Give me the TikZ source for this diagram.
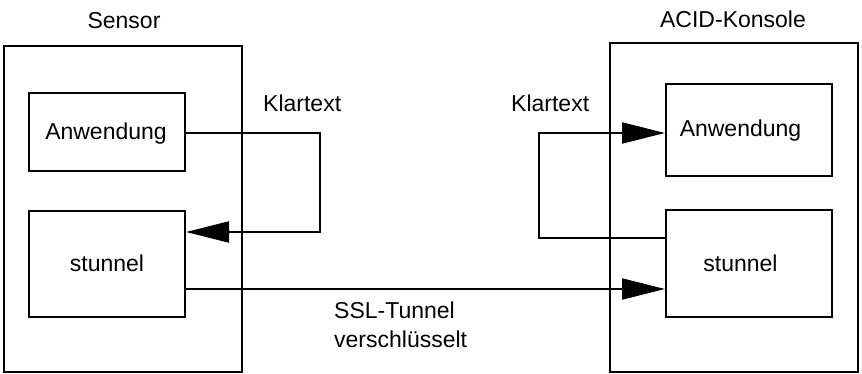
\documentclass[tikz,border=0pt]{standalone}
\usepackage{fontspec}
\setmainfont{Liberation Sans}
\usetikzlibrary{arrows.meta}
\begin{document}
\begin{tikzpicture}[x=1pt,y=-1pt,
  every node/.style={font=\fontsize{23}{28}\selectfont, inner sep=0pt},
  frame/.style={draw, line width=2pt},
  box/.style={draw, line width=2pt},
  conn/.style={line width=2pt},
  arr/.style={conn, -{Triangle[length=43pt,width=21pt]}}]
\useasboundingbox (0,0) rectangle (862,374);
% outer frames
\draw[frame] (4,46) rectangle (242,372);
\draw[frame] (610,43) rectangle (858,372);
% inner boxes
\node[box, minimum width=156pt, minimum height=78pt] (anwL) at (107,132) {};
\node[box, minimum width=156pt, minimum height=106pt] (stL) at (107,264) {};
\node[box, minimum width=166pt, minimum height=92pt] (anwR) at (749,130) {};
\node[box, minimum width=166pt, minimum height=107pt] (stR) at (749,263.5) {};
% box texts
\node[anchor=base] (tanwL) at (106,140) {Anwendung};
\node[anchor=base] (tstL) at (107,271) {stunnel};
\node[anchor=base] (tanwR) at (740.5,137) {Anwendung};
\node[anchor=base] (tstR) at (740.5,271) {stunnel};
% titles
\node[anchor=base] (sensor) at (124,28.5) {Sensor};
\node[anchor=base] (acid) at (733,27.5) {ACID-Konsole};
% labels
\node[anchor=base west] (klL) at (263,112) {Klartext};
\node[anchor=base west] (klR) at (511,112) {Klartext};
\node[anchor=base west] (ssl1) at (334,318) {SSL-Tunnel};
\node[anchor=base west] (ssl2) at (334,347) {verschlüsselt};
% connectors
\coordinate (c1) at (320,133);
\coordinate (c2) at (320,232);
\draw[arr] (anwL.east |- c1) -- (c1) -- (c2) -- (stL.east |- c2);
\coordinate (d1) at (539,238);
\coordinate (d2) at (539,133);
\draw[arr] (stR.west |- d1) -- (d1) -- (d2) -- (anwR.west |- d2);
\coordinate (e1) at (0,289);
\draw[arr] (stL.east |- e1) -- (stR.west |- e1);
\end{tikzpicture}
\end{document}
